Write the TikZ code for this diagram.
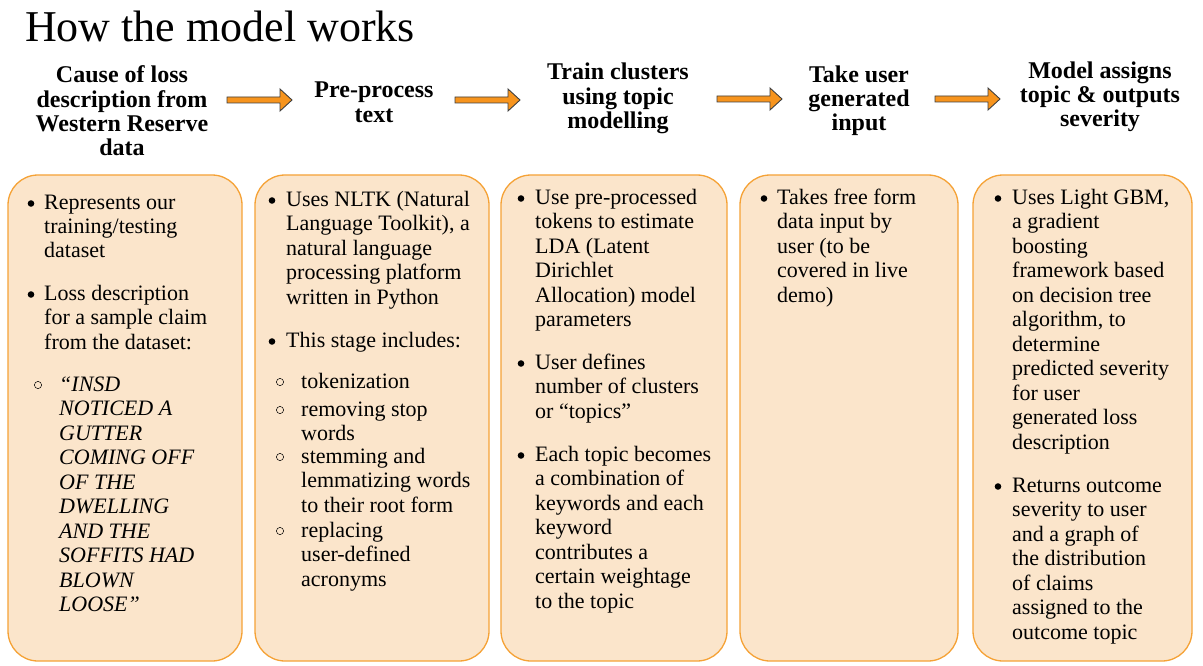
\documentclass[tikz,border=0pt]{standalone}
\usepackage{fontspec}
\setmainfont{Liberation Serif}
\definecolor{boxfill}{HTML}{FBE5CB}
\definecolor{boxline}{HTML}{F5A236}
\definecolor{arrfill}{HTML}{F7941D}
\definecolor{arrline}{HTML}{3F3F3F}
\tikzset{
 panel/.style={draw=boxline, fill=boxfill, line width=1.3pt, rounded corners=30pt, inner sep=0pt, minimum height=486pt},
 head/.style={font=\fontsize{24}{24.3}\selectfont\bfseries, align=center, inner sep=0pt, anchor=base},
 body/.style={font=\fontsize{22}{24.5}\selectfont, align=left, inner sep=0pt, anchor=base west},
 subtext/.style={body, font=\fontsize{22}{24.5}\selectfont\itshape},
 dot/.style={fill=black},
 ring/.style={draw=black, line width=0.5pt},
 flow/.style={draw=arrline, fill=arrfill, line width=0.9pt, line join=miter}
}
\begin{document}
\begin{tikzpicture}[x=1pt,y=-1pt]
\useasboundingbox (0,0) rectangle (1203,666);
% title
\node[anchor=base west, font=\fontsize{44}{50}\selectfont, inner sep=0pt] (title) at (25,42) {How the model works};
% headings (anchor = baseline of last line)
\node[head] (h1) at (122,{83+3*24.3}) {Cause of loss\\description from\\Western Reserve\\data};
\node[head] (h2) at (374,{98+24.3}) {Pre-process\\text};
\node[head] (h3) at (618,{80+2*24.3}) {Train clusters\\using topic\\modelling};
\node[head] (h4) at (859,{82+2*24.3}) {Take user\\generated\\input};
\node[head] (h5) at (1100,{78+2*24.3}) {Model assigns\\topic \& outputs\\severity};
% arrows
\coordinate (a1) at (227,100);
\coordinate (a2) at (455,100);
\coordinate (a3) at (717,99);
\coordinate (a4) at (935,99);
\foreach \a in {a1,a2,a3,a4}{
 \draw[flow] (\a) ++(0,-3) -- ++(53,0) -- ++(0,-8) -- ++(12,11) -- ++(-12,11) -- ++(0,-8) -- ++(-53,0) -- cycle;
}
% panels
\node[panel, minimum width=234pt] (b1) at (125,418) {};
\node[panel, minimum width=234pt] (b2) at (372,418) {};
\node[panel, minimum width=226pt] (b3) at (614,418) {};
\node[panel, minimum width=218pt] (b4) at (849,418) {};
\node[panel, minimum width=219pt] (b5) at (1082.5,418) {};
% panel 1
\fill[dot] (31,203.5) circle (3.3);
\node[body] (t11) at (44,{209+2*24.5}) {Represents our\\training/testing\\dataset};
\fill[dot] (31,294.5) circle (3.3);
\node[body] (t12) at (44,{300+2*24.5}) {Loss description\\for a sample claim\\from the dataset:};
\draw[ring] (38,385) circle (3.6);
\node[subtext] (t13) at (59,{391+9*24.5}) {“INSD\\NOTICED A\\GUTTER\\COMING OFF\\OF THE\\DWELLING\\AND THE\\SOFFITS HAD\\BLOWN\\LOOSE”};
% panel 2
\fill[dot] (272,200.5) circle (3.3);
\node[body] (t21) at (286,{206+4*24.5}) {Uses NLTK (Natural\\Language Toolkit), a\\natural language\\processing platform\\written in Python};
\fill[dot] (272,341.5) circle (3.3);
\node[body] (t22) at (286,347) {This stage includes:};
\draw[ring] (280,382) circle (3.6);
\node[body] (t23) at (301,388) {tokenization};
\draw[ring] (280,410) circle (3.6);
\node[body] (t24) at (301,{416+24.5}) {removing stop\\words};
\draw[ring] (280,457) circle (3.6);
\node[body] (t25) at (301,{463+2*24.5}) {stemming and\\lemmatizing words\\to their root form};
\draw[ring] (280,531) circle (3.6);
\node[body] (t26) at (301,{537+2*24.5}) {replacing\\user-defined\\acronyms};
% panel 3
\fill[dot] (521,198.5) circle (3.3);
\node[body] (t31) at (535,{204+5*24.5}) {Use pre-processed\\tokens to estimate\\LDA (Latent\\Dirichlet\\Allocation) model\\parameters};
\fill[dot] (521,363.5) circle (3.3);
\node[body] (t32) at (535,{369+2*24.5}) {User defines\\number of clusters\\or “topics”};
\fill[dot] (521,455.5) circle (3.3);
\node[body] (t33) at (535,{461+6*24.5}) {Each topic becomes\\a combination of\\keywords and each\\keyword\\contributes a\\certain weightage\\to the topic};
% panel 4
\fill[dot] (764,198.5) circle (3.3);
\node[body] (t41) at (777,{204+4*24.5}) {Takes free form\\data input by\\user (to be\\covered in live\\demo)};
% panel 5
\fill[dot] (998,198.5) circle (3.3);
\node[body] (t51) at (1012,{204+10*24.5}) {Uses Light GBM,\\a gradient\\boosting\\framework based\\on decision tree\\algorithm, to\\determine\\predicted severity\\for user\\generated loss\\description};
\fill[dot] (998,486.5) circle (3.3);
\node[body] (t52) at (1012,{492+6*24.5}) {Returns outcome\\severity to user\\and a graph of\\the distribution\\of claims\\assigned to the\\outcome topic};
\end{tikzpicture}
\end{document}
